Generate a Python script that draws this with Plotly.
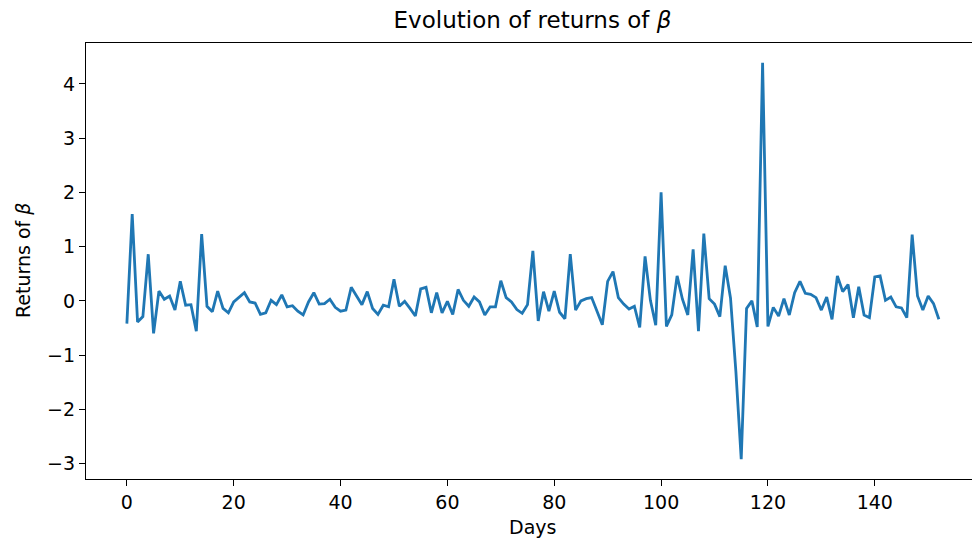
import plotly.graph_objects as go

# Daily returns of beta, one value per day
days = list(range(153))
returns = [
    -0.42, 1.60, -0.39, -0.29, 0.86, -0.60, 0.18, 0.03, 0.09, -0.17,
    0.36, -0.08, -0.07, -0.56, 1.23, -0.10, -0.20, 0.18, -0.14, -0.22,
    -0.02, 0.06, 0.15, -0.02, -0.04, -0.25, -0.22, 0.01, -0.07, 0.11,
    -0.11, -0.09, -0.19, -0.26, -0.02, 0.15, -0.06, -0.05, 0.03, -0.12,
    -0.19, -0.17, 0.25, 0.09, -0.07, 0.17, -0.14, -0.25, -0.08, -0.11,
    0.40, -0.10, -0.01, -0.14, -0.28, 0.22, 0.25, -0.22, 0.15, -0.22,
    -0.01, -0.25, 0.21, 0.01, -0.10, 0.07, -0.02, -0.26, -0.11, -0.11,
    0.37, 0.06, -0.02, -0.16, -0.23, -0.07, 0.92, -0.37, 0.17, -0.19,
    0.18, -0.21, -0.33, 0.86, -0.17, 0.00, 0.04, 0.06, -0.19, -0.44,
    0.36, 0.54, 0.06, -0.06, -0.15, -0.10, -0.49, 0.82, 0.01, -0.45,
    2.00, -0.47, -0.26, 0.46, 0.03, -0.26, 0.95, -0.56, 1.24, 0.04,
    -0.06, -0.29, 0.65, 0.05, -1.30, -2.92, -0.14, 0.00, -0.48, 4.39,
    -0.47, -0.12, -0.28, 0.04, -0.26, 0.15, 0.36, 0.14, 0.12, 0.06,
    -0.17, 0.07, -0.34, 0.46, 0.17, 0.30, -0.31, 0.26, -0.26, -0.31,
    0.44, 0.46, 0.01, 0.07, -0.11, -0.13, -0.31, 1.22, 0.09, -0.17,
    0.09, -0.05, -0.34,
]

x_ticks = [0, 20, 40, 60, 80, 100, 120, 140]
y_ticks = [-3, -2, -1, 0, 1, 2, 3, 4]
y_tick_labels = ["\u22123", "\u22122", "\u22121", "0", "1", "2", "3", "4"]

FONT = "DejaVu Sans"

fig = go.Figure(
    go.Scatter(
        x=days,
        y=returns,
        mode="lines",
        line=dict(color="#1f77b4", width=2.8),
        hoverinfo="x+y",
    )
)

axis_common = dict(
    showgrid=False,
    zeroline=False,
    showline=True,
    linecolor="black",
    linewidth=1.4,
    ticks="outside",
    ticklen=6,
    tickwidth=1.3,
    tickcolor="black",
    tickfont=dict(family=FONT, size=19, color="black"),
)

fig.update_layout(
    width=972,
    height=543,
    margin=dict(l=86, r=0, t=43, b=64),
    paper_bgcolor="white",
    plot_bgcolor="white",
    showlegend=False,
    title=dict(
        text="Evolution of returns of <i>\u03b2</i>",
        font=dict(family=FONT, size=23, color="black"),
        xref="container",
        x=532.5 / 972,
        xanchor="center",
        yref="container",
        y=1 - 20 / 543,
        yanchor="middle",
    ),
    xaxis=dict(
        range=[-7.65, 158.2],
        tickvals=x_ticks,
        mirror=True,
        **axis_common,
    ),
    yaxis=dict(
        range=[-3.285, 4.755],
        tickvals=y_ticks,
        ticktext=y_tick_labels,
        **axis_common,
    ),
    annotations=[
        dict(
            text="Days",
            xref="paper", yref="paper",
            x=(532.5 - 86) / 886, y=(479 - 527) / 436,
            xanchor="center", yanchor="middle",
            showarrow=False,
            font=dict(family=FONT, size=19, color="black"),
        ),
        dict(
            text="Returns of <i>\u03b2</i>",
            xref="paper", yref="paper",
            x=(23 - 86) / 886, y=0.5,
            xanchor="center", yanchor="middle",
            textangle=-90,
            showarrow=False,
            font=dict(family=FONT, size=19, color="black"),
        ),
    ],
)

fig.write_html("out.html")
